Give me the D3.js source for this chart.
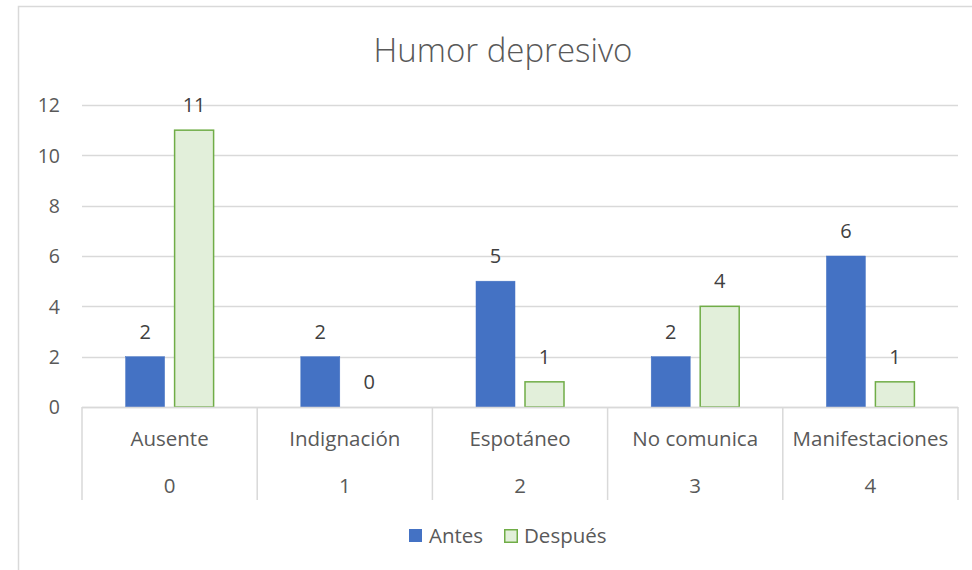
<!DOCTYPE html>
<html lang="es">
<head>
<meta charset="UTF-8">
<title>Humor depresivo</title>
<style>
  body { margin: 0; background: #FFFFFF; }
  svg { display: block; font-family: "Open Sans", "Noto Sans", sans-serif; }
</style>
</head>
<body>
<svg id="chart" width="972" height="570"></svg>
<script src="https://d3js.org/d3.v7.min.js"></script>
<script>
// Chart data
const categories = ["Ausente", "Indignación", "Espotáneo", "No comunica", "Manifestaciones"];
const codes = ["0", "1", "2", "3", "4"];
const seriesNames = ["Antes", "Después"];
const antes = [2, 2, 5, 2, 6];
const despues = [11, 0, 1, 4, 1];
const yTicks = [0, 2, 4, 6, 8, 10, 12];

const svg = d3.select("#chart");
const margin = { left: 82, right: 958, top: 105, bottom: 407 };
const font = "'Open Sans', 'Noto Sans', sans-serif";

// outer chart frame
svg.append("rect")
    .attr("x", 18.5).attr("y", 6.5)
    .attr("width", 1000).attr("height", 600)
    .attr("fill", "#FFFFFF")
    .attr("stroke", "#D9D9D9")
    .attr("stroke-width", 1.5);

// title
svg.append("text")
    .attr("x", 503).attr("y", 62)
    .attr("text-anchor", "middle")
    .attr("font-size", 33)
    .attr("font-weight", 300)
    .attr("fill", "#595959")
    .text("Humor depresivo");

const x = d3.scaleBand()
    .domain(categories)
    .range([margin.left, margin.right]);

const y = d3.scaleLinear()
    .domain([0, 12])
    .range([margin.bottom, margin.top]);

// gridlines
svg.append("g")
    .selectAll("line")
    .data(yTicks)
    .join("line")
    .attr("x1", margin.left).attr("x2", margin.right)
    .attr("y1", d => Math.round(y(d)) + 0.5)
    .attr("y2", d => Math.round(y(d)) + 0.5)
    .attr("stroke", "#D9D9D9")
    .attr("stroke-width", 1.5);

// y tick labels
const yAxis = svg.append("g")
    .attr("transform", `translate(${margin.left - 22},0)`)
    .call(d3.axisLeft(y).tickValues(yTicks).tickSize(0).tickPadding(0));
yAxis.select(".domain").remove();
yAxis.selectAll("text")
    .attr("font-family", font)
    .attr("font-size", 19.5)
    .attr("fill", "#595959")
    .attr("dy", "0.35em");

// bars
const barW = 39;
const offsets = [-24.5, 24.5];
const series = [antes, despues];
const fills = ["#4472C4", "#E2EFDA"];
const strokes = ["#4472C4", "#70AD47"];

series.forEach((vals, s) => {
    const g = svg.append("g");
    g.selectAll("rect")
        .data(vals.map((v, i) => ({ cat: categories[i], v })))
        .join("rect")
        .attr("x", d => x(d.cat) + x.bandwidth() / 2 + offsets[s] - barW / 2)
        .attr("y", d => y(d.v))
        .attr("width", barW)
        .attr("height", d => y(0) - y(d.v))
        .attr("fill", fills[s])
        .attr("stroke", d => d.v > 0 ? strokes[s] : "none")
        .attr("stroke-width", s === 1 ? 1.5 : 0.5);

    g.selectAll("text")
        .data(vals.map((v, i) => ({ cat: categories[i], v })))
        .join("text")
        .attr("x", d => x(d.cat) + x.bandwidth() / 2 + offsets[s])
        .attr("y", d => y(d.v) - 18)
        .attr("text-anchor", "middle")
        .attr("font-size", 20)
        .attr("fill", "#404040")
        .text(d => d.v);
});

// category axis (two levels)
const axisG = svg.append("g");
axisG.append("line")
    .attr("x1", margin.left).attr("x2", margin.right)
    .attr("y1", margin.bottom + 0.5).attr("y2", margin.bottom + 0.5)
    .attr("stroke", "#D9D9D9").attr("stroke-width", 1.5);

const seps = categories.map(c => x(c)).concat([margin.right]);
axisG.selectAll("line.sep")
    .data(seps)
    .join("line")
    .attr("class", "sep")
    .attr("x1", d => d).attr("x2", d => d)
    .attr("y1", margin.bottom).attr("y2", 500)
    .attr("stroke", "#D9D9D9").attr("stroke-width", 1.5);

axisG.selectAll("text.cat")
    .data(categories)
    .join("text")
    .attr("class", "cat")
    .attr("x", d => x(d) + x.bandwidth() / 2)
    .attr("y", 446)
    .attr("text-anchor", "middle")
    .attr("font-size", 20.5)
    .attr("fill", "#595959")
    .text(d => d);

axisG.selectAll("text.code")
    .data(codes)
    .join("text")
    .attr("class", "code")
    .attr("x", (d, i) => x(categories[i]) + x.bandwidth() / 2)
    .attr("y", 493)
    .attr("text-anchor", "middle")
    .attr("font-size", 20.5)
    .attr("fill", "#595959")
    .text(d => d);

// legend
const legendX = [409, 504];
const legend = svg.append("g");
seriesNames.forEach((name, i) => {
    legend.append("rect")
        .attr("x", legendX[i] + (i === 1 ? 0.75 : 0))
        .attr("y", 529 + (i === 1 ? 0.75 : 0))
        .attr("width", i === 1 ? 12.5 : 13)
        .attr("height", i === 1 ? 12.5 : 13)
        .attr("fill", fills[i])
        .attr("stroke", i === 1 ? strokes[i] : "none")
        .attr("stroke-width", 1.5);
    legend.append("text")
        .attr("x", legendX[i] + 20)
        .attr("y", 543)
        .attr("font-size", 20.5)
        .attr("fill", "#595959")
        .text(name);
});
</script>
</body>
</html>
